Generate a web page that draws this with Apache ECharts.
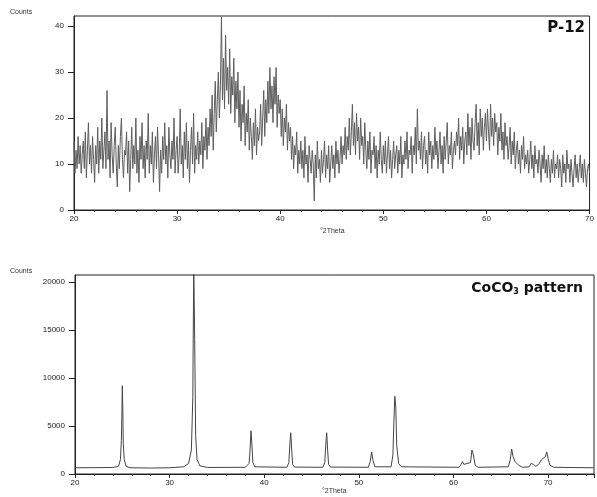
<!DOCTYPE html>
<html><head><meta charset="utf-8">
<script src="https://cdn.jsdelivr.net/npm/echarts@6/dist/echarts.min.js"></script>
<style>html,body{margin:0;padding:0;background:#fff}#c{width:597px;height:497px}</style>
</head><body><div id="c"></div>
<script>
// ---- Top panel (P-12): counts sampled every 0.1 deg from 20 to 70 (one row per degree) ----
var p12Start = 20, p12Step = 0.1;
var p12Counts = [
 15, 8, 13, 9, 16, 10, 14, 8, 12, 15,
 9, 17, 7, 13, 19, 10, 14, 8, 16, 11,
 6, 14, 10, 18, 8, 15, 11, 20, 9, 13,
 17, 9, 26, 11, 15, 7, 19, 12, 8, 14,
 18, 10, 5, 14, 9, 16, 20, 11, 7, 13,
 12, 17, 8, 15, 4, 11, 18, 9, 14, 10,
 20, 8, 13, 6, 16, 11, 19, 9, 14, 7,
 15, 11, 21, 8, 14, 10, 17, 6, 12, 16,
 9, 18, 12, 4, 13, 8, 16, 11, 19, 10,
 14, 7, 18, 12, 9, 15, 11, 20, 8, 13,
 16, 8, 12, 22, 10, 14, 7, 17, 11, 19,
 9, 15, 6, 13, 18, 10, 21, 8, 14, 11,
 17, 10, 15, 12, 19, 9, 16, 13, 20, 11,
 18, 14, 22, 16, 25, 13, 21, 28, 17, 24,
 30, 20, 27, 42, 24, 33, 22, 38, 26, 31,
 23, 35, 21, 29, 25, 33, 19, 28, 22, 30,
 18, 26, 15, 23, 19, 27, 14, 21, 17, 24,
 13, 20, 16, 11, 19, 14, 22, 12, 18, 15,
 17, 23, 14, 20, 26, 16, 24, 19, 28, 21,
 31, 22, 27, 19, 29, 23, 31, 18, 25, 21,
 24, 16, 22, 14, 20, 17, 23, 13, 19, 15,
 18, 11, 16, 9, 14, 12, 17, 8, 13, 10,
 15, 9, 13, 7, 16, 10, 12, 6, 14, 11,
 8, 13, 10, 2, 12, 7, 15, 9, 11, 6,
 13, 8, 11, 15, 7, 12, 9, 14, 6, 10,
 14, 9, 12, 7, 15, 10, 13, 8, 11, 16,
 10, 14, 12, 18, 11, 16, 13, 20, 12, 17,
 23, 14, 19, 12, 21, 15, 18, 11, 20, 14,
 16, 10, 19, 13, 9, 15, 11, 17, 8, 13,
 12, 16, 9, 14, 7, 13, 10, 17, 11, 8,
 14, 10, 15, 8, 12, 16, 9, 13, 7, 11,
 15, 9, 12, 14, 8, 13, 10, 16, 7, 12,
 10, 15, 11, 17, 9, 13, 12, 16, 8, 14,
 12, 18, 10, 22, 13, 15, 11, 17, 9, 14,
 16, 10, 13, 8, 17, 12, 15, 9, 14, 11,
 18, 12, 15, 9, 13, 17, 10, 14, 8, 16,
 11, 15, 19, 10, 14, 12, 17, 9, 13, 15,
 12, 17, 14, 20, 11, 16, 13, 18, 10, 15,
 17, 12, 21, 14, 18, 11, 20, 15, 13, 19,
 23, 14, 19, 12, 22, 16, 20, 13, 18, 21,
 15, 22, 17, 13, 23, 16, 20, 14, 21, 17,
 19, 12, 18, 15, 21, 13, 17, 11, 19, 14,
 16, 11, 14, 18, 10, 15, 12, 17, 9, 13,
 15, 10, 13, 8, 14, 11, 16, 9, 12, 10,
 13, 8, 11, 15, 9, 12, 7, 14, 10, 11,
 8, 13, 10, 6, 12, 9, 14, 8, 11, 7,
 12, 9, 6, 11, 8, 13, 7, 10, 9, 12,
 7, 11, 9, 5, 12, 8, 10, 6, 13, 9,
 10, 6, 11, 8, 5, 9, 12, 7, 10, 6,
 9, 12, 7, 10, 6, 11, 8, 5, 9, 10,
 8
];
// ---- Bottom panel (CoCO3 reference pattern) ----
var cocoTheta = [20, 22, 24, 24.6, 24.8, 24.9, 24.95, 25.0, 25.05, 25.1, 25.2, 25.4, 25.8, 28, 30, 31.5, 32.0, 32.3, 32.45, 32.55, 32.65, 32.75, 32.9, 33.2, 34,
 38, 38.4, 38.5, 38.6, 38.7, 38.8, 39.0, 42.4, 42.6, 42.7, 42.8, 42.9, 43.0, 43.2, 46.2, 46.4, 46.5, 46.6, 46.7, 46.8, 47.0,
 51.0, 51.2, 51.35, 51.5, 51.7, 53.4, 53.6, 53.7, 53.8, 53.9, 54.0, 54.2, 54.5, 60.6, 60.8, 60.95, 61.1, 61.3, 61.8, 61.95, 62.1, 62.3, 62.6,
 65.8, 66.0, 66.15, 66.3, 66.5, 66.7, 66.9, 67.3, 68.0, 68.2, 68.3, 68.45, 68.7, 69.0, 69.3, 69.5, 69.7, 69.85, 70.0, 70.2, 70.6, 72, 74.8];
var cocoCounts = [650, 660, 680, 800, 1500, 3500, 6000, 9200, 7000, 3200, 1500, 800, 650, 620, 650, 750, 1100, 2500, 8000, 22000, 14000, 4000, 1500, 850, 680,
 700, 1100, 2500, 4500, 3000, 1200, 750, 700, 1200, 3000, 4300, 2500, 1000, 720, 700, 1200, 3000, 4300, 2500, 1000, 720,
 700, 1300, 2300, 1400, 750, 750, 2000, 5500, 8100, 7000, 3000, 1100, 750, 700, 1000, 1300, 1000, 800, 1200, 2500, 2000, 900, 700,
 750, 1500, 2600, 1800, 1300, 1500, 900, 700, 750, 1100, 1300, 1000, 800, 1000, 1500, 1300, 1800, 2300, 1600, 900, 700, 680, 650];

var p12Data = p12Counts.map(function (v, i) { return [+(p12Start + i * p12Step).toFixed(2), v]; });
var cocoData = cocoTheta.map(function (t, i) { return [t, cocoCounts[i]]; });

var lbl = { fontFamily: 'Liberation Sans', fontSize: 8, color: '#222', formatter: function (v) { return String(v); } };
function xAx(idx, max) {
  return { type: 'value', gridIndex: idx, min: 20, max: max, interval: 10,
    axisLine: { show: true, lineStyle: { color: '#222', width: 1 } },
    axisTick: { show: true, length: 4, lineStyle: { color: '#222' } },
    minorTick: { show: true, splitNumber: 5, length: 2, lineStyle: { color: '#444' } },
    splitLine: { show: false },
    axisLabel: Object.assign({ margin: 5, showMaxLabel: idx === 0 }, lbl) };
}
function yAx(idx, max, iv) {
  return { type: 'value', gridIndex: idx, min: 0, max: max, interval: iv,
    axisLine: { show: true, lineStyle: { color: '#222', width: 1 } },
    axisTick: { show: true, length: 6, lineStyle: { color: '#222' } },
    splitLine: { show: false },
    axisLabel: Object.assign({ margin: 10, showMaxLabel: false }, lbl) };
}
var chart = echarts.init(document.getElementById('c'), null, { renderer: 'canvas' });
chart.setOption({
  animation: false,
  backgroundColor: '#fff',
  grid: [
    { left: 74, top: 16, width: 519, height: 194, show: true, borderColor: '#222', borderWidth: 1 },
    { left: 75, top: 275, width: 519, height: 199, show: true, borderColor: '#222', borderWidth: 1 }
  ],
  xAxis: [xAx(0, 70), xAx(1, 74.85)],
  yAxis: [yAx(0, 42.2, 10), yAx(1, 20740, 5000)],
  series: [
    { type: 'line', xAxisIndex: 0, yAxisIndex: 0, data: p12Data, showSymbol: false, clip: true,
      lineStyle: { color: '#5e5e5e', width: 1 } },
    { type: 'line', xAxisIndex: 1, yAxisIndex: 1, data: cocoData, showSymbol: false, clip: true,
      lineStyle: { color: '#444', width: 1 } }
  ],
  graphic: [
    { type: 'text', left: 10, top: 9, style: { text: 'Counts', fontFamily: 'Liberation Sans', fontSize: 7, fill: '#333' } },
    { type: 'text', left: 10, top: 268, style: { text: 'Counts', fontFamily: 'Liberation Sans', fontSize: 7, fill: '#333' } },
    { type: 'text', left: 320, top: 228, style: { text: '°2Theta', fontFamily: 'Liberation Sans', fontSize: 7, fill: '#333' } },
    { type: 'text', left: 322, top: 488, style: { text: '°2Theta', fontFamily: 'Liberation Sans', fontSize: 7, fill: '#333' } },
    { type: 'text', right: 12, top: 21, style: { text: 'P-12', fontFamily: 'DejaVu Sans', fontWeight: 'bold', fontSize: 15, fill: '#111' } },
    { type: 'text', right: 14, top: 281, style: {
        text: '{a|CoCO}{s|3}{a| pattern}', fill: '#111',
        rich: { a: { fontFamily: 'DejaVu Sans', fontWeight: 'bold', fontSize: 14, fill: '#111' },
                s: { fontFamily: 'DejaVu Sans', fontWeight: 'bold', fontSize: 8, fill: '#111', padding: [8, 0, 0, 0] } } } }
  ]
});
</script></body></html>
